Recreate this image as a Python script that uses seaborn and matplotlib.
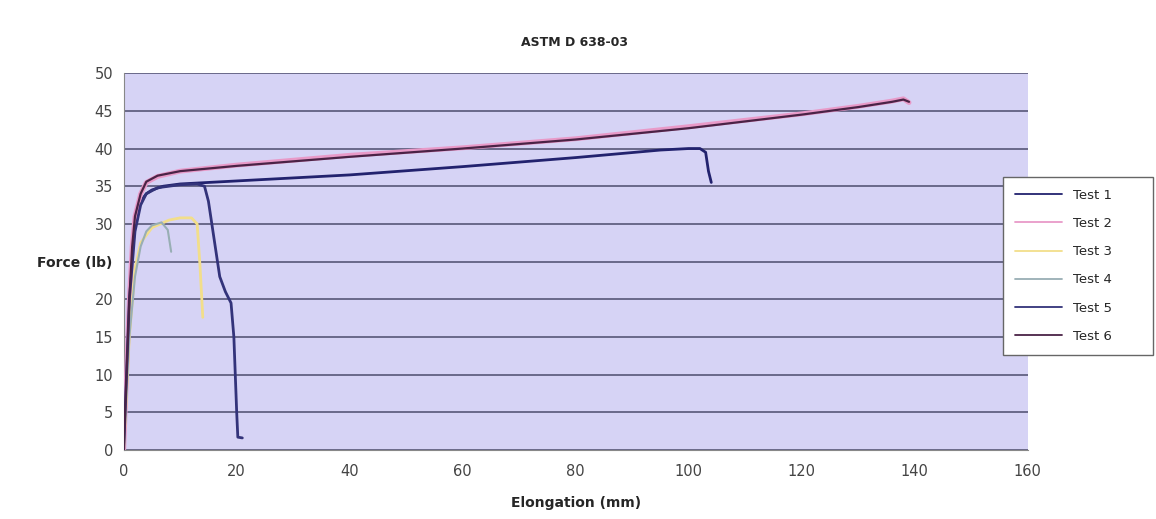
import numpy as np
import pandas as pd
import matplotlib
matplotlib.use("Agg")
import matplotlib.pyplot as plt
import seaborn as sns

# ---- data ----
test1_x = [0, 0.5, 1, 1.5, 2, 3, 4, 5, 7, 10, 20, 40, 60, 80, 95, 100, 102, 103, 103.5, 104]
test1_y = [0, 10, 20, 26, 30, 33, 34, 34.5, 35, 35.3, 35.7, 36.5, 37.6, 38.8, 39.8, 40, 40, 39.5, 37, 35.5]

test2_x = [0, 0.5, 1, 1.5, 2, 3, 4, 6, 10, 20, 40, 60, 80, 100, 120, 130, 136, 138, 139]
test2_y = [0, 10, 20, 27, 31, 34, 35.5, 36.3, 37, 37.8, 39.1, 40.1, 41.3, 42.9, 44.6, 45.6, 46.3, 46.6, 46.1]

test3_x = [0, 1, 2, 3, 5, 8, 10, 12, 13, 13.5, 14]
test3_y = [0, 15, 24, 27.5, 29.5, 30.5, 30.8, 30.8, 30, 24.5, 17.6]

test4_x = [0, 1, 2, 3, 4, 5, 6.7, 7.8, 8.4]
test4_y = [0, 15, 23, 27, 29, 29.8, 30.2, 29.2, 26.3]

test5_x = [0, 0.5, 1, 2, 3, 4, 6, 10, 13, 14.3, 15, 16, 17, 18, 19, 19.5, 20, 20.2, 21]
test5_y = [0, 10, 20, 29, 32.5, 34, 34.8, 35.2, 35.3, 35, 33, 28, 23, 21, 19.5, 15, 5, 1.7, 1.6]

test6_x = [0, 0.5, 1, 1.5, 2, 3, 4, 6, 10, 20, 40, 60, 80, 100, 120, 130, 136, 138, 139]
test6_y = [0, 10, 20, 27, 31, 34, 35.6, 36.4, 37, 37.7, 38.9, 40, 41.2, 42.7, 44.5, 45.5, 46.2, 46.5, 46.2]

series_names = ["Test 1", "Test 2", "Test 3", "Test 4", "Test 5", "Test 6"]
series_x = [test1_x, test2_x, test3_x, test4_x, test5_x, test6_x]
series_y = [test1_y, test2_y, test3_y, test4_y, test5_y, test6_y]

x_ticks = [0, 20, 40, 60, 80, 100, 120, 140, 160]
y_ticks = [0, 5, 10, 15, 20, 25, 30, 35, 40, 45, 50]
y_tick_labels = ["0", "5", "10", "15", "20", "", "30", "35", "40", "45", "50"]

title = "ASTM D 638-03"
x_label = "Elongation (mm)"
y_label = "Force (lb)"

rows = []
for name, xs, ys in zip(series_names, series_x, series_y):
    for i, (xv, yv) in enumerate(zip(xs, ys)):
        rows.append({"series": name, "order": i, "x": xv, "y": yv})
df = pd.DataFrame(rows)

colors = {
    "Test 1": "#22226e",
    "Test 2": "#e89ac8",
    "Test 3": "#f2de8a",
    "Test 4": "#98aeb4",
    "Test 5": "#33337a",
    "Test 6": "#4a2346",
}
widths = {"Test 1": 2.0, "Test 2": 3.5, "Test 3": 2.0, "Test 4": 1.5, "Test 5": 2.0, "Test 6": 1.6}

sns.set_style("white")
plt.rcParams["font.family"] = ["DejaVu Sans"]

fig = plt.figure(figsize=(11.56, 5.19), dpi=100)
ax = fig.add_axes([0.107, 0.133, 0.782, 0.726])
ax.set_facecolor("#d6d3f5")

for name in series_names:
    sub = df[df["series"] == name]
    sns.lineplot(data=sub, x="x", y="y", sort=False, estimator=None, ax=ax,
                 color=colors[name], linewidth=widths[name], label=name, zorder=3)

ax.set_xlim(0, 160)
ax.set_ylim(0, 50)
ax.set_xticks(x_ticks)
ax.set_yticks(y_ticks)
ax.set_yticklabels(y_tick_labels)
ax.yaxis.grid(True, color="#4c4c6c", linewidth=1.1)
ax.xaxis.grid(False)
ax.set_axisbelow(True)
for s in ["top", "right"]:
    ax.spines[s].set_visible(False)
ax.spines["left"].set_color("#888888")
ax.spines["bottom"].set_color("#888888")
ax.tick_params(axis="both", length=4, color="#888888", labelsize=10.5, labelcolor="#444444", direction="out")
ax.tick_params(axis="x", pad=6)

ax.set_xlabel(x_label, fontsize=10, fontweight="bold", labelpad=12)
ax.set_ylabel("")
fig.text(112 / 1156, 1 - 263 / 519, y_label, fontsize=10, fontweight="bold", ha="right", va="center")
fig.text(0.497, 1 - 42 / 519, title, fontsize=9, fontweight="bold", ha="center", va="center")

handles, labels = ax.get_legend_handles_labels()
if ax.get_legend():
    ax.get_legend().remove()
leg = fig.legend(handles, labels, loc="upper left",
                 bbox_to_anchor=(1003 / 1156, 1 - 182 / 519, 150 / 1156, 5 / 519), mode="expand",
                 borderaxespad=0.0,
                 frameon=True, fancybox=False, edgecolor="#666666", facecolor="white", framealpha=1.0,
                 fontsize=9.5, handlelength=3.6, labelspacing=1.15, borderpad=0.9, markerfirst=True)
leg.get_frame().set_linewidth(1.0)
for line in leg.get_lines():
    line.set_linewidth(1.3)

fig.savefig("out.png", dpi=100, facecolor="white")
